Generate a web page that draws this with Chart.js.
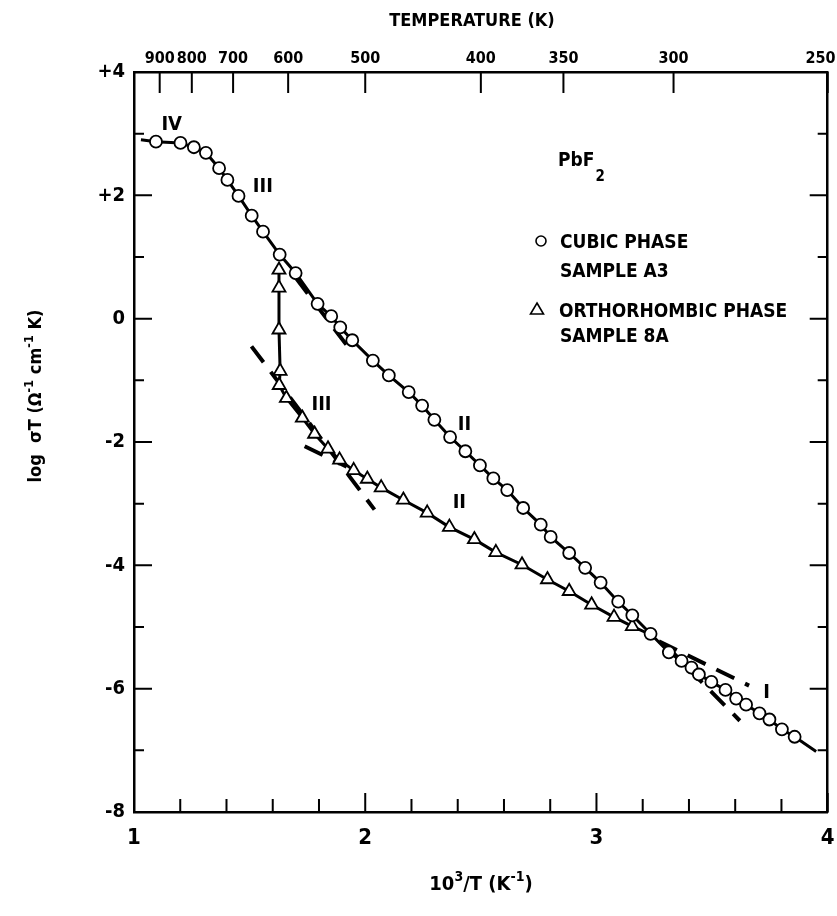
<!DOCTYPE html>
<html>
<head>
<meta charset="utf-8">
<script src="https://cdn.jsdelivr.net/npm/chart.js@4.4.0/dist/chart.umd.min.js"></script>
<style>
  html, body { margin: 0; padding: 0; background: #fff; }
  #wrap { width: 837px; height: 916px; }
</style>
</head>
<body>
<div id="wrap"><canvas id="chart" width="837" height="916"></canvas></div>
<script>
// cubic phase, sample A3 (circles): 10^3/T and log(sigma T)
const cubicX = [1.095, 1.201, 1.259, 1.311, 1.368, 1.404, 1.452, 1.509, 1.558, 1.630,
  1.699, 1.794, 1.853, 1.892, 1.944, 2.033, 2.102, 2.188, 2.246, 2.299,
  2.367, 2.433, 2.496, 2.554, 2.614, 2.683, 2.759, 2.802, 2.882, 2.951,
  3.018, 3.094, 3.155, 3.234, 3.313, 3.368, 3.411, 3.443, 3.497, 3.558,
  3.604, 3.647, 3.705, 3.748, 3.802, 3.857];
const cubicY = [2.87, 2.85, 2.78, 2.69, 2.44, 2.25, 1.99, 1.67, 1.41, 1.04,
  0.74, 0.24, 0.04, -0.14, -0.35, -0.68, -0.92, -1.19, -1.41, -1.64,
  -1.92, -2.15, -2.38, -2.59, -2.78, -3.07, -3.34, -3.54, -3.80, -4.04,
  -4.28, -4.59, -4.81, -5.11, -5.41, -5.55, -5.66, -5.77, -5.89, -6.02,
  -6.16, -6.26, -6.40, -6.50, -6.66, -6.78];
// where the drawn curve through the circles begins and ends
const cubicCurveStart = [1.03, 2.90];
const cubicCurveEnd = [3.95, -7.02];

// orthorhombic phase, sample 8A (triangles)
const orthoX = [1.627, 1.627, 1.627, 1.632, 1.628, 1.659, 1.728, 1.781, 1.839, 1.889,
  1.950, 2.009, 2.069, 2.165, 2.268, 2.364, 2.472, 2.565, 2.678, 2.788,
  2.882, 2.979, 3.076, 3.155];
const orthoY = [0.79, 0.50, -0.18, -0.85, -1.08, -1.29, -1.61, -1.87, -2.11, -2.29,
  -2.46, -2.60, -2.74, -2.94, -3.15, -3.38, -3.58, -3.79, -3.99, -4.23,
  -4.42, -4.64, -4.84, -4.99];
const orthoCurveStart = [1.627, 0.86];
const orthoCurveEnd = [3.25, -5.15];

// dashed extrapolations: [x1, y1, x2, y2]
const dashedLines = [
  [1.699, 0.665, 1.941, -0.535],
  [1.508, -0.449, 2.040, -3.096],
  [1.738, -2.07, 1.920, -2.40],
  [3.270, -5.23, 3.660, -5.95],
  [3.300, -5.30, 3.620, -6.52]
];

// region labels
const regionText = ['IV', 'III', 'III', 'II', 'II', 'I'];
const regionX = [1.163, 1.557, 1.811, 2.429, 2.407, 3.736];
const regionY = [3.14, 2.14, -1.39, -1.72, -2.98, -6.06];

// top axis, temperature in K
const tempTicks = [900, 800, 700, 600, 500, 400, 350, 300, 250];

const FONT = "'DejaVu Sans Condensed', 'Liberation Sans Narrow', sans-serif";
Chart.defaults.font.family = FONT;
Chart.defaults.font.weight = 'bold';
Chart.defaults.color = '#000';

function toPoints(xs, ys) {
  return xs.map((x, i) => ({ x: x, y: ys[i] }));
}

let datasets = [
  {
    label: 'CUBIC PHASE SAMPLE A3',
    data: toPoints(cubicX, cubicY),
    showLine: false,
    pointStyle: 'circle',
    pointRadius: 6,
    pointBorderWidth: 1.8,
    pointBackgroundColor: '#fff',
    pointBorderColor: '#000'
  },
  {
    label: 'ORTHORHOMBIC PHASE SAMPLE 8A',
    data: toPoints(orthoX, orthoY),
    showLine: false,
    pointStyle: 'triangle',
    pointRadius: 7.5,
    pointBorderWidth: 1.8,
    pointBackgroundColor: '#fff',
    pointBorderColor: '#000'
  },
  {
    label: 'cubic curve',
    data: [{ x: cubicCurveStart[0], y: cubicCurveStart[1] }]
      .concat(toPoints(cubicX, cubicY), [{ x: cubicCurveEnd[0], y: cubicCurveEnd[1] }]),
    showLine: true,
    borderColor: '#000',
    borderWidth: 3,
    pointRadius: 0
  },
  {
    label: 'ortho curve',
    data: [{ x: orthoCurveStart[0], y: orthoCurveStart[1] }]
      .concat(toPoints(orthoX, orthoY), [{ x: orthoCurveEnd[0], y: orthoCurveEnd[1] }]),
    showLine: true,
    borderColor: '#000',
    borderWidth: 3,
    pointRadius: 0
  }
];

for (let i = 0; i < dashedLines.length; i++) {
  let d = dashedLines[i];
  datasets.push({
    label: 'dashed ' + i,
    data: [{ x: d[0], y: d[1] }, { x: d[2], y: d[3] }],
    showLine: true,
    borderColor: '#000',
    borderWidth: 4,
    borderDash: [20, 12],
    pointRadius: 0
  });
}

/**
 * @brief draws text made of normal and superscript pieces, centred on x.
 */
function richText(ctx, parts, x, y, size) {
  let total = 0;
  parts.forEach(p => {
    ctx.font = 'bold ' + (p.sup ? size * 0.7 : size) + 'px ' + FONT;
    p.w = ctx.measureText(p.t).width;
    total += p.w;
  });
  let cx = x - total / 2;
  parts.forEach(p => {
    ctx.font = 'bold ' + (p.sup ? size * 0.7 : size) + 'px ' + FONT;
    ctx.fillText(p.t, cx, p.sup ? y - size * 0.45 : y);
    cx += p.w;
  });
}

const decorPlugin = {
  id: 'decor',
  afterDraw(chart) {
    const { ctx, chartArea: a, scales } = chart;
    ctx.save();

    // inward tick marks on all four sides
    ctx.strokeStyle = '#000';
    ctx.lineWidth = 2;
    ctx.beginPath();
    for (let i = 0; i <= 15; i++) {
      let px = scales.x.getPixelForValue(1 + i * 0.2);
      let len = (i % 5 === 0) ? 19 : 13;
      ctx.moveTo(px, a.bottom);
      ctx.lineTo(px, a.bottom - len);
    }
    scales.x2.ticks.forEach(t => {
      let px = scales.x2.getPixelForValue(t.value);
      ctx.moveTo(px, a.top);
      ctx.lineTo(px, a.top + 21);
    });
    for (let v = -8; v <= 4; v++) {
      let py = scales.y.getPixelForValue(v);
      let len = (v % 2 === 0) ? 18 : 10;
      ctx.moveTo(a.left, py);
      ctx.lineTo(a.left + len, py);
      ctx.moveTo(a.right, py);
      ctx.lineTo(a.right - len, py);
    }
    ctx.stroke();

    ctx.fillStyle = '#000';
    ctx.textBaseline = 'alphabetic';
    ctx.textAlign = 'left';

    // axis titles
    ctx.font = 'bold 18px ' + FONT;
    let tw = ctx.measureText('TEMPERATURE (K)').width;
    ctx.fillText('TEMPERATURE (K)', 472 - tw / 2, 26);

    richText(ctx, [{ t: '10' }, { t: '3', sup: true }, { t: '/T (K' }, { t: '-1', sup: true }, { t: ')' }], 481, 890, 20);

    ctx.save();
    ctx.translate(41, 396);
    ctx.rotate(-Math.PI / 2);
    richText(ctx, [{ t: 'log  \u03C3T (\u03A9' }, { t: '-1', sup: true }, { t: ' cm' }, { t: '-1', sup: true }, { t: ' K)' }], 0, 0, 18);
    ctx.restore();

    // region labels
    ctx.font = 'bold 20px ' + FONT;
    ctx.textAlign = 'center';
    ctx.textBaseline = 'middle';
    for (let i = 0; i < regionText.length; i++) {
      ctx.fillText(regionText[i], scales.x.getPixelForValue(regionX[i]), scales.y.getPixelForValue(regionY[i]));
    }

    // legend
    ctx.textAlign = 'left';
    ctx.textBaseline = 'alphabetic';
    ctx.font = 'bold 19px ' + FONT;
    ctx.fillText('PbF', 558, 166);
    let pw = ctx.measureText('PbF').width;
    ctx.font = 'bold 15px ' + FONT;
    ctx.fillText('2', 558 + pw + 1, 181);

    ctx.font = 'bold 19px ' + FONT;
    ctx.fillText('CUBIC PHASE', 560, 248);
    ctx.fillText('SAMPLE A3', 560, 277);
    ctx.fillText('ORTHORHOMBIC PHASE', 559, 317);
    ctx.fillText('SAMPLE 8A', 560, 342);

    ctx.lineWidth = 1.6;
    ctx.beginPath();
    ctx.arc(541, 241, 5, 0, Math.PI * 2);
    ctx.stroke();
    ctx.beginPath();
    ctx.moveTo(537, 303);
    ctx.lineTo(543.5, 314);
    ctx.lineTo(530.5, 314);
    ctx.closePath();
    ctx.stroke();

    ctx.restore();
  }
};

// keep the edge labels from pushing the plot area inwards
function noHPad(s) { s.paddingLeft = 0; s.paddingRight = 0; }
function noVPad(s) { s.paddingTop = 0; s.paddingBottom = 0; }

new Chart(document.getElementById('chart'), {
  type: 'scatter',
  data: { datasets: datasets },
  options: {
    responsive: false,
    animation: false,
    devicePixelRatio: 1,
    layout: { padding: 0 },
    plugins: { legend: { display: false }, tooltip: { enabled: false } },
    scales: {
      x: {
        type: 'linear',
        position: 'bottom',
        min: 1,
        max: 4,
        grid: { display: false, drawTicks: false },
        border: { display: true, color: '#000', width: 2.5 },
        ticks: { stepSize: 1, padding: 13, font: { size: 22 }, callback: v => String(v) },
        afterFit: s => { s.height = 104; noHPad(s); }
      },
      x2: {
        type: 'linear',
        position: 'top',
        min: 1,
        max: 4,
        grid: { display: false, drawTicks: false },
        border: { display: true, color: '#000', width: 2.5 },
        afterBuildTicks: s => { s.ticks = tempTicks.map(t => ({ value: 1000 / t })); },
        ticks: { autoSkip: false, maxRotation: 0, padding: 4, font: { size: 16 },
          // last label sits just inside the right edge, as in the original
          callback: (v, i, ticks) => {
            let label = String(Math.round(1000 / v));
            return i === ticks.length - 1 ? label + '\u2002\u2002' : label;
          } },
        afterFit: s => { s.height = 72; noHPad(s); }
      },
      y: {
        type: 'linear',
        position: 'left',
        min: -8,
        max: 4,
        grid: { display: false, drawTicks: false },
        border: { display: true, color: '#000', width: 2.5 },
        ticks: { stepSize: 2, padding: 9, font: { size: 20 },
          callback: v => (v > 0 ? '+' + v : String(v)) },
        afterFit: s => { s.width = 134; noVPad(s); }
      },
      y2: {
        type: 'linear',
        position: 'right',
        min: -8,
        max: 4,
        grid: { display: false, drawTicks: false },
        border: { display: true, color: '#000', width: 2.5 },
        ticks: { display: false },
        afterFit: s => { s.width = 8; noVPad(s); }
      }
    }
  },
  plugins: [decorPlugin]
});
</script>
</body>
</html>
